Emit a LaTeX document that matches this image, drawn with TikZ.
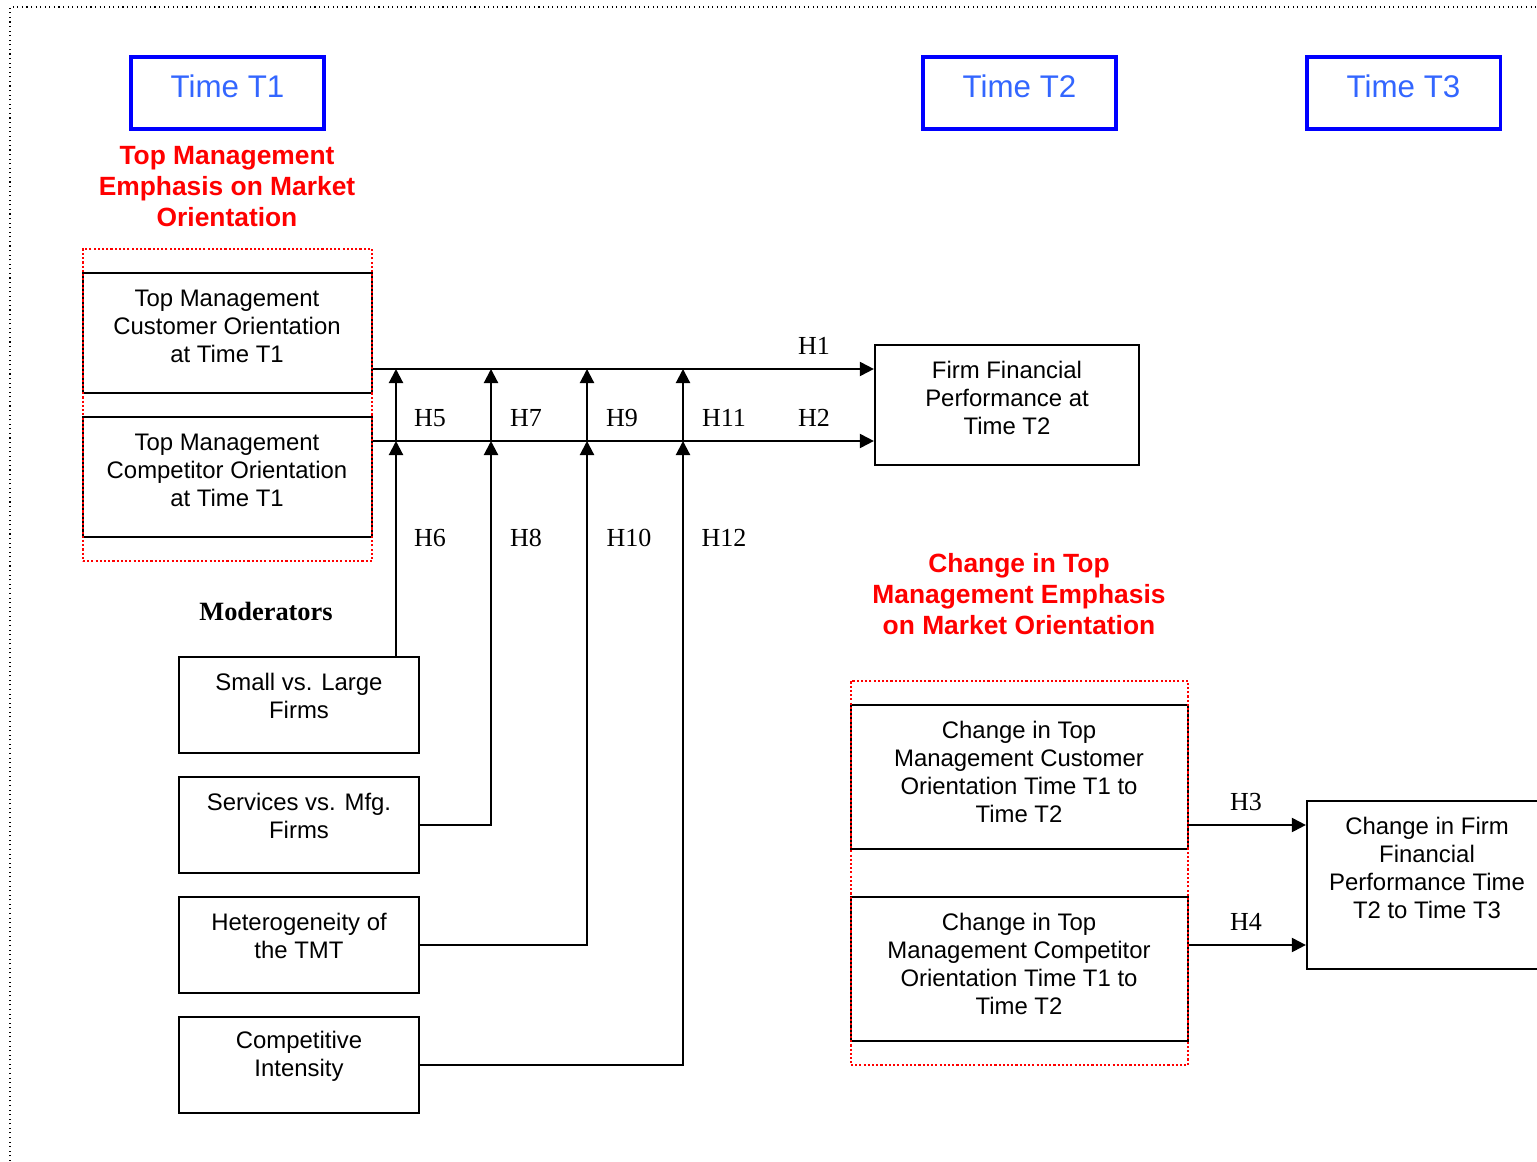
\documentclass[tikz,border=0pt]{standalone}
\usepackage{fontspec}
\setmainfont{Liberation Sans}
\newfontfamily\timesfont{Liberation Serif}
\usetikzlibrary{calc}
\usetikzlibrary{positioning}
\usetikzlibrary{arrows.meta}
\definecolor{zeitblau}{RGB}{51,102,255}
\tikzset{
	>={Triangle[length=4pt,width=4pt]},
	timebox/.style={
		rectangle,
		draw=blue, line width=0.9pt,
		minimum width=1.93cm,
		minimum height=0.72cm,
		text height=0.23cm,
		text depth=0.13cm,
		text=zeitblau,
		font=\fontsize{8.9}{10}\selectfont},
	varbox/.style={
		rectangle,
		draw=black, line width=0.6pt},
	vartext/.style={
		align=center,
		inner sep=0pt,
		font=\fontsize{6.8}{7.95}\selectfont},
	redhead/.style={
		align=center,
		text=red,
		font=\bfseries\fontsize{7.5}{8.8}\selectfont},
	redframe/.style={draw=red, line width=0.6pt, dash pattern=on 0.6pt off 0.6pt},
	hyp/.style={font=\timesfont\fontsize{7.4}{8}\selectfont},
	line/.style={draw, line width=0.6pt, ->},
}

\begin{document}
\begin{tikzpicture}[x=0.01cm, y=-0.01cm]
	\useasboundingbox (0,0) rectangle (1537,1161);
	\clip (0,0) rectangle (1537,1161);
	\draw[densely dotted, line width=0.3pt] (10,1170) -- (10,7) -- (1550,7);

	% time points
	\node[timebox] (tone) at (227.5,93) {Time T1};
	\node[timebox] (ttwo) at (1019.5,93) {Time T2};
	\node[timebox] (tthree) at (1403.5,93) {Time T3};

	% emphasis at T1
	\node[redhead] (headone) at (227,186.5) {Top Management\\Emphasis on Market\\Orientation};
	\node[varbox, minimum width=2.89cm, minimum height=1.2cm] (cust) at (227.5,333) {};
	\node[vartext] (custtxt) at (227,326) {Top Management\\Customer Orientation\\at Time T1};
	\node[varbox, minimum width=2.89cm, minimum height=1.2cm] (compo) at (227.5,477) {};
	\node[vartext] (compotxt) at (227,470) {Top Management\\Competitor Orientation\\at Time T1};
	\node[redframe, minimum width=2.89cm, minimum height=3.12cm] (grpone) at (227.5,405) {};

	\node[varbox, minimum width=2.64cm, minimum height=1.2cm] (firm) at (1007,405) {};
	\node[vartext] (firmtxt) at (1007,398) {Firm Financial\\Performance at\\Time T2};

	% moderators
	\node[font=\timesfont\bfseries\fontsize{7.5}{9}\selectfont] (modhead) at (266,611) {Moderators};
	\node[varbox, minimum width=2.4cm, minimum height=0.96cm] (small) at (299,705) {};
	\node[vartext] (smalltxt) at (299,696) {Small vs. Large\\Firms};
	\node[varbox, minimum width=2.4cm, minimum height=0.96cm] (serv) at (299,825) {};
	\node[vartext] (servtxt) at (299,816) {Services vs. Mfg.\\Firms};
	\node[varbox, minimum width=2.4cm, minimum height=0.96cm] (het) at (299,945) {};
	\node[vartext] (hettxt) at (299,936) {Heterogeneity of\\the TMT};
	\node[varbox, minimum width=2.4cm, minimum height=0.96cm] (comp) at (299,1065) {};
	\node[vartext] (comptxt) at (299,1056) {Competitive\\Intensity};

	% change block
	\node[redhead] (headtwo) at (1019,594) {Change in Top\\Management Emphasis\\on Market Orientation};
	\node[varbox, minimum width=3.37cm, minimum height=1.44cm] (cco) at (1019.5,777) {};
	\node[vartext] (ccotxt) at (1019,772) {Change in Top\\Management Customer\\Orientation Time T1 to\\Time T2};
	\node[varbox, minimum width=3.37cm, minimum height=1.44cm] (ccompo) at (1019.5,969) {};
	\node[vartext] (ccompotxt) at (1019,964) {Change in Top\\Management Competitor\\Orientation Time T1 to\\Time T2};
	\node[redframe, minimum width=3.37cm, minimum height=3.84cm] (grptwo) at (1019.5,873) {};

	\node[varbox, minimum width=2.4cm, minimum height=1.68cm] (chfirm) at (1427,885) {};
	\node[vartext] (chfirmtxt) at (1427,868) {Change in Firm\\Financial\\Performance Time\\T2 to Time T3};

	% main effects
	\draw[line] ($(cust.east)+(0,36)$) -- ($(firm.west)+(0,-36)$);
	\draw[line] ($(compo.east)+(0,-36)$) -- ($(firm.west)+(0,36)$);
	\draw[line] ($(cco.east)+(0,48)$) -- ($(chfirm.west)+(0,-60)$);
	\draw[line] ($(ccompo.east)+(0,-24)$) -- ($(chfirm.west)+(0,60)$);

	% moderating effects
	\foreach \x [count=\i] in {396,491,587,683} {
		\coordinate (lo\i) at (\x,441);
		\coordinate (hi\i) at (\x,369);
		\draw[line] (lo\i) -- (hi\i);
	}
	\draw[line] (small.north -| lo1) -- (lo1);
	\draw[line] (serv.east) -| (lo2);
	\draw[line] (het.east) -| (lo3);
	\draw[line] (comp.east) -| (lo4);

	\node[hyp] (hone) at (814,346) {H1};
	\node[hyp] (htwo) at (814,418) {H2};
	\node[hyp] (hthree) at (1246,802) {H3};
	\node[hyp] (hfour) at (1246,922) {H4};
	\node[hyp] (hfive) at (430,418) {H5};
	\node[hyp] (hsix) at (430,538) {H6};
	\node[hyp] (hseven) at (526,418) {H7};
	\node[hyp] (height) at (526,538) {H8};
	\node[hyp] (hnine) at (622,418) {H9};
	\node[hyp] (hten) at (629,538) {H10};
	\node[hyp] (heleven) at (724,418) {H11};
	\node[hyp] (htwelve) at (724,538) {H12};
\end{tikzpicture}
\end{document}
